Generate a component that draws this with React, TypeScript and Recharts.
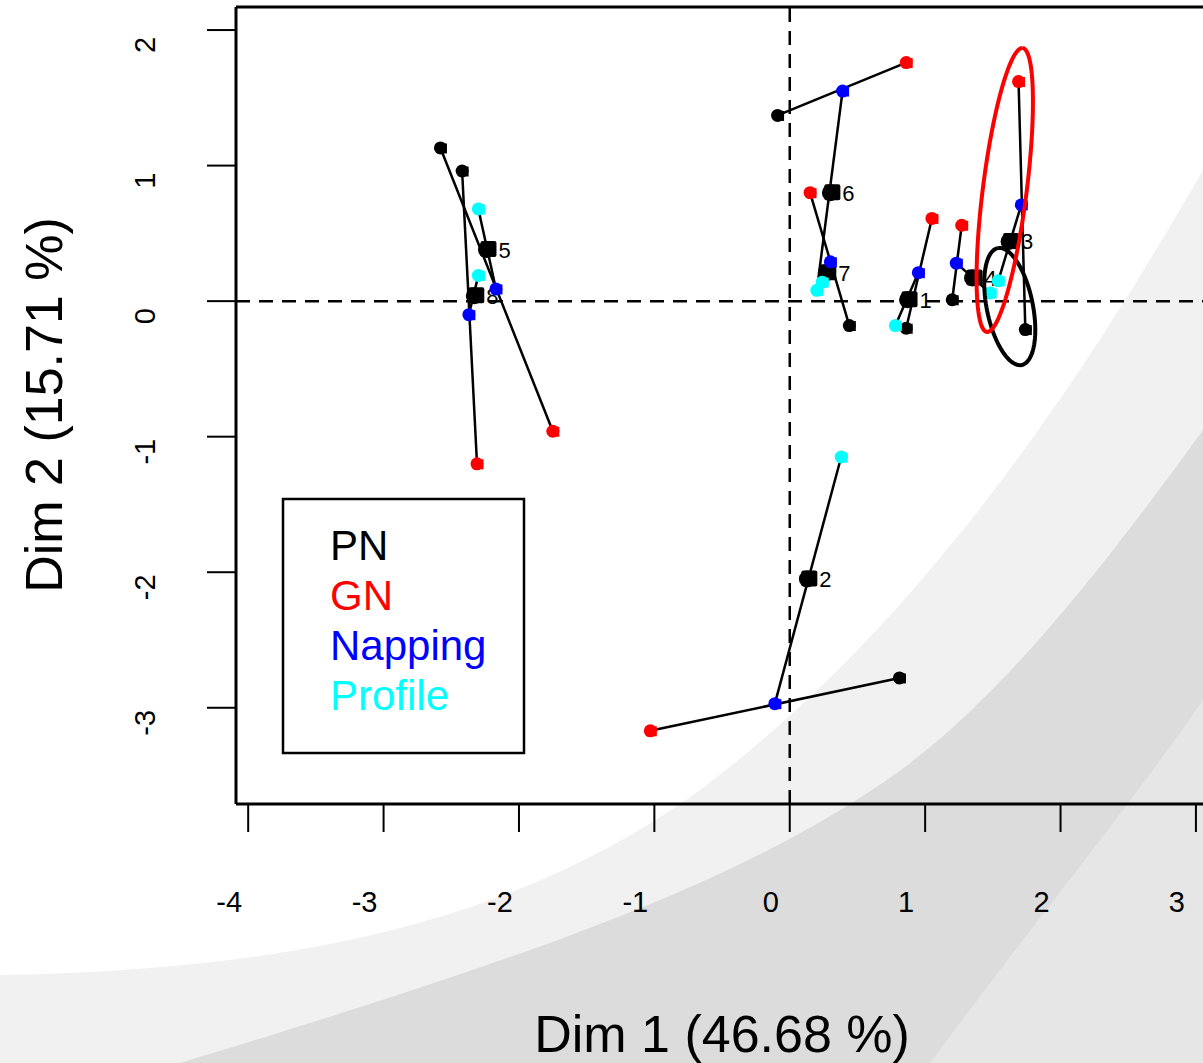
import React from 'react';
import { ScatterChart, Scatter, XAxis, YAxis, ReferenceLine } from 'recharts';

// products (mean points of the HMFA)
const products = ['1', '2', '3', '4', '5', '6', '7', '8'];
const meanX = [0.87, 0.13, 1.62, 1.35, -2.24, 0.3, 0.27, -2.33];
const meanY = [0.01, -2.05, 0.44, 0.17, 0.38, 0.8, 0.21, 0.04];

// partial points per group
const pnX = [0.86, 0.81, 1.74, 1.2, -2.58, -0.09, 0.44, -2.42];
const pnY = [-0.2, -2.78, -0.21, 0.01, 1.13, 1.37, -0.18, 0.96];
const gnX = [1.05, -1.03, 1.69, 1.27, -1.75, 0.86, 0.15, -2.31];
const gnY = [0.61, -3.17, 1.62, 0.56, -0.96, 1.76, 0.8, -1.2];
const napX = [0.95, -0.11, 1.71, 1.23, -2.17, 0.39, 0.3, -2.37];
const napY = [0.21, -2.97, 0.71, 0.28, 0.09, 1.55, 0.29, -0.1];
const proX = [0.78, 0.38, 1.54, 1.48, -2.3, 0.2, 0.24, -2.3];
const proY = [-0.18, -1.15, 0.15, 0.06, 0.68, 0.08, 0.14, 0.19];

const groupNames = ['PN', 'GN', 'Napping', 'Profile'];
const groupColors = ['#000000', '#ff0000', '#0000ff', '#00ffff'];

// confidence ellipses: centre, half axes (data units), angle in degrees
const ellipses = [
  { color: '#000000', cx: 1.625, cy: -0.04, a: 0.44, b: 0.17, angle: 101.6 },
  { color: '#ff0000', cx: 1.588, cy: 0.82, a: 1.056, b: 0.162, angle: 82.8 },
];

const xTicks = [-4, -3, -2, -1, 0, 1, 2, 3];
const yTicks = [-3, -2, -1, 0, 1, 2];
const X_MIN = -4.09;
const X_MAX = 3.2;
const Y_MIN = -3.71;
const Y_MAX = 2.17;

const FONT = '"Liberation Sans", Arial, Helvetica, sans-serif';

const toPts = (xs: number[], ys: number[]) =>
  xs.map((x, i) => ({ x, y: ys[i], label: products[i] }));

const meanPts = toPts(meanX, meanY);
const groupPts = [toPts(pnX, pnY), toPts(gnX, gnY), toPts(napX, napY), toPts(proX, proY)];

// outline of an ellipse (rotated) in data units
const ellipseOutline = (e: typeof ellipses[number]) => {
  const pts = [];
  const t = (e.angle * Math.PI) / 180;
  for (let k = 0; k <= 96; k++) {
    const s = (k / 96) * Math.PI * 2;
    const u = e.a * Math.cos(s);
    const v = e.b * Math.sin(s);
    pts.push({ x: e.cx + u * Math.cos(t) - v * Math.sin(t), y: e.cy + u * Math.sin(t) + v * Math.cos(t) });
  }
  return pts;
};

const Empty = () => <g />;

const PartialDot = (color: string) => (p: any) => (
  <g>
    <circle cx={p.cx} cy={p.cy} r={6.5} fill={color} />
    <rect x={p.cx - 3.5} y={p.cy - 4.5} width={10} height={10} fill={color} />
  </g>
);

const MeanDot = (p: any) => (
  <g>
    <text x={p.cx + 12} y={p.cy + 8} fontSize={22} fontFamily={FONT} fill="#000">
      {p.payload.label}
    </text>
    <circle cx={p.cx} cy={p.cy} r={8.5} fill="#000" />
    <rect x={p.cx - 6} y={p.cy - 8.5} width={16} height={16} rx={2} fill="#000" />
  </g>
);

const XTick = (p: any) => (
  <text x={p.x - 19} y={p.y + 78} textAnchor="middle" fontSize={29} fontFamily={FONT} fill="#000">
    {p.payload.value}
  </text>
);

const YTick = (p: any) => {
  const x = p.x - 50;
  const y = p.y + 15;
  return (
    <text x={x} y={y} transform={`rotate(-90 ${x} ${y})`} textAnchor="middle" fontSize={29} fontFamily={FONT} fill="#000">
      {p.payload.value}
    </text>
  );
};

export default function App() {
  return (
    <div style={{ position: 'fixed', left: 0, top: 0, width: 1203, height: 1063, overflow: 'hidden', background: '#fff' }}>
      {/* slide background swoosh */}
      <svg width={1203} height={1063} style={{ position: 'absolute', left: 0, top: 0 }}>
        <path d="M1203,170 C1060,420 900,640 700,790 C520,920 300,970 0,975 L0,1063 L1203,1063 Z" fill="#f1f1f1" />
        <path d="M1203,430 C1080,600 980,720 872,790 C720,890 520,960 180,1063 L1203,1063 Z" fill="#dcdcdc" />
        <path d="M1203,700 C1120,820 1020,940 930,1063 L1203,1063 Z" fill="#e6e6e6" />
      </svg>

      <div style={{ position: 'absolute', left: 0, top: 0 }}>
        <ScatterChart width={1243} height={1063} margin={{ top: 7, right: 20, bottom: 0, left: 0 }}>
          <XAxis
            type="number"
            dataKey="x"
            domain={[X_MIN, X_MAX]}
            ticks={xTicks}
            interval={0}
            allowDataOverflow
            height={259}
            tickSize={28}
            axisLine={{ stroke: '#000', strokeWidth: 3 }}
            tickLine={{ stroke: '#000', strokeWidth: 2 }}
            tick={<XTick />}
          />
          <YAxis
            type="number"
            dataKey="y"
            domain={[Y_MIN, Y_MAX]}
            ticks={yTicks}
            interval={0}
            allowDataOverflow
            width={236}
            tickSize={29}
            axisLine={{ stroke: '#000', strokeWidth: 3 }}
            tickLine={{ stroke: '#000', strokeWidth: 2 }}
            tick={<YTick />}
          />
          <ReferenceLine y={Y_MAX} stroke="#000" strokeWidth={3} />
          <ReferenceLine x={0} stroke="#000" strokeWidth={2.5} strokeDasharray="14 9" />
          <ReferenceLine y={0} stroke="#000" strokeWidth={2.5} strokeDasharray="14 9" />

          {/* PN - GN segments (Napping sits on them) */}
          {products.map((p, i) => (
            <Scatter
              key={'s1' + p}
              data={[groupPts[0][i], groupPts[1][i]]}
              line={{ stroke: '#000', strokeWidth: 2.5 }}
              shape={<Empty />}
              isAnimationActive={false}
            />
          ))}
          {/* Napping - Profile segments (mean sits on them) */}
          {products.map((p, i) => (
            <Scatter
              key={'s2' + p}
              data={[groupPts[2][i], groupPts[3][i]]}
              line={{ stroke: '#000', strokeWidth: 2.5 }}
              shape={<Empty />}
              isAnimationActive={false}
            />
          ))}

          <Scatter name="mean" data={meanPts} shape={MeanDot} isAnimationActive={false} />
          {groupPts.map((pts, g) => (
            <Scatter
              key={groupNames[g]}
              name={groupNames[g]}
              data={pts}
              shape={PartialDot(groupColors[g])}
              isAnimationActive={false}
            />
          ))}

          {ellipses.map((e, k) => (
            <Scatter
              key={'ell' + k}
              data={ellipseOutline(e)}
              line={{ stroke: e.color, strokeWidth: 4 }}
              shape={<Empty />}
              isAnimationActive={false}
            />
          ))}
        </ScatterChart>
      </div>

      {/* axis titles and legend box */}
      <svg width={1203} height={1063} style={{ position: 'absolute', left: 0, top: 0, pointerEvents: 'none' }}>
        <text x={722} y={1052} textAnchor="middle" fontSize={52} fontFamily={FONT} fill="#000">
          Dim 1 (46.68 %)
        </text>
        <text x={62} y={405} transform="rotate(-90 62 405)" textAnchor="middle" fontSize={52} fontFamily={FONT} fill="#000">
          Dim 2 (15.71 %)
        </text>
        <rect x={283} y={499} width={241} height={254} fill="#fff" stroke="#000" strokeWidth={2.5} />
        {groupNames.map((g, i) => (
          <text key={g} x={330} y={560 + i * 50} fontSize={42} fontFamily={FONT} fill={groupColors[i]}>
            {g}
          </text>
        ))}
      </svg>
    </div>
  );
}
